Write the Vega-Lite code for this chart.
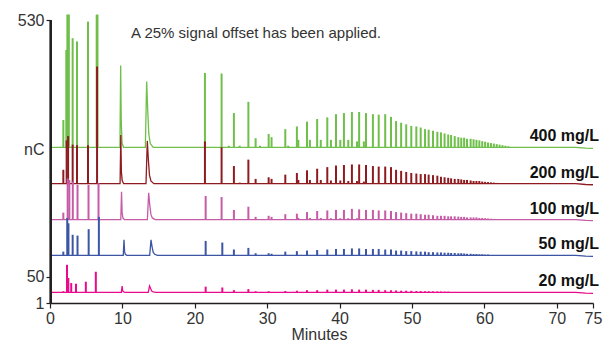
{
"$schema":"https://vega.github.io/schema/vega-lite/v6.json",
"width":543,"height":283,
"autosize":{"type":"none"},
"padding":{"left":50,"top":20,"right":23,"bottom":41},
"background":"white",
"config":{"view":{"stroke":null},
 "axis":{"grid":false,"domain":true,"domainColor":"#231f20","domainWidth":1.6,"tickColor":"#231f20","tickWidth":1.2,"labelFont":"Liberation Sans","labelFontSize":16,"labelColor":"#333","titleFont":"Liberation Sans","titleFontSize":16,"titleFontWeight":"normal","titleColor":"#333"}},
"datasets":{
"series":[{"s":"1","name":"400 mg/L","b":292},{"s":"2","name":"200 mg/L","b":224},{"s":"3","name":"100 mg/L","b":157},{"s":"4","name":"50 mg/L","b":90},{"s":"5","name":"20 mg/L","b":21}],
"trace":[
{"s":"1","t":0,"v":292},{"s":"1","t":9.66,"v":292},{"s":"1","t":9.76,"v":445},{"s":"1","t":9.84,"v":340},{"s":"1","t":9.95,"v":300},{"s":"1","t":10.15,"v":292},{"s":"1","t":13.17,"v":292},{"s":"1","t":13.35,"v":415},{"s":"1","t":13.5,"v":360},{"s":"1","t":13.65,"v":317},{"s":"1","t":13.85,"v":299},{"s":"1","t":14.25,"v":292},{"s":"1","t":72.6,"v":292},{"s":"1","t":74,"v":290.5},{"s":"1","t":75,"v":290},
{"s":"2","t":0,"v":224},{"s":"2","t":9.68,"v":224},{"s":"2","t":9.78,"v":315},{"s":"2","t":9.86,"v":246},{"s":"2","t":9.97,"v":230},{"s":"2","t":10.17,"v":224},{"s":"2","t":13.26,"v":224},{"s":"2","t":13.44,"v":304},{"s":"2","t":13.59,"v":268},{"s":"2","t":13.74,"v":240},{"s":"2","t":13.94,"v":229},{"s":"2","t":14.34,"v":224},{"s":"2","t":72.6,"v":224},{"s":"2","t":74,"v":222.5},{"s":"2","t":75,"v":222},
{"s":"3","t":0,"v":157},{"s":"3","t":9.78,"v":157},{"s":"3","t":9.88,"v":209},{"s":"3","t":9.96,"v":170},{"s":"3","t":10.07,"v":160},{"s":"3","t":10.27,"v":157},{"s":"3","t":13.45,"v":157},{"s":"3","t":13.63,"v":207},{"s":"3","t":13.78,"v":184},{"s":"3","t":13.93,"v":167},{"s":"3","t":14.13,"v":160},{"s":"3","t":14.53,"v":157},{"s":"3","t":72.6,"v":157},{"s":"3","t":74,"v":155.5},{"s":"3","t":75,"v":155},
{"s":"4","t":0,"v":90},{"s":"4","t":10.12,"v":90},{"s":"4","t":10.22,"v":119},{"s":"4","t":10.3,"v":97},{"s":"4","t":10.41,"v":92},{"s":"4","t":10.61,"v":90},{"s":"4","t":13.77,"v":90},{"s":"4","t":13.95,"v":119},{"s":"4","t":14.1,"v":106},{"s":"4","t":14.25,"v":96},{"s":"4","t":14.45,"v":92},{"s":"4","t":14.85,"v":90},{"s":"4","t":72.6,"v":90},{"s":"4","t":74,"v":88.5},{"s":"4","t":75,"v":88},
{"s":"5","t":0,"v":21},{"s":"5","t":9.86,"v":21},{"s":"5","t":9.96,"v":32.7},{"s":"5","t":10.04,"v":24},{"s":"5","t":10.15,"v":22},{"s":"5","t":10.35,"v":21},{"s":"5","t":13.57,"v":21},{"s":"5","t":13.75,"v":33},{"s":"5","t":13.9,"v":28},{"s":"5","t":14.05,"v":23.5},{"s":"5","t":14.25,"v":22},{"s":"5","t":14.65,"v":21},{"s":"5","t":72.6,"v":21},{"s":"5","t":74,"v":19.5},{"s":"5","t":75,"v":19}
],
"peaks":[
{"s":"1","t":1.84,"v":343},{"s":"1","t":2.25,"v":474},{"s":"1","t":2.4,"v":540},{"s":"1","t":2.5,"v":540},{"s":"1","t":2.6,"v":540},{"s":"1","t":3.13,"v":496},{"s":"1","t":3.73,"v":490},{"s":"1","t":5.25,"v":527},{"s":"1","t":6.45,"v":540},{"s":"1","t":6.56,"v":540},
{"s":"1","t":21.4,"v":431},{"s":"1","t":23.7,"v":430},{"s":"1","t":24.7,"v":295},{"s":"1","t":25.4,"v":356},{"s":"1","t":26.2,"v":295},{"s":"1","t":27.4,"v":377},{"s":"1","t":28.4,"v":309},{"s":"1","t":29.0,"v":295},{"s":"1","t":30.2,"v":317},{"s":"1","t":30.6,"v":311},{"s":"1","t":32.5,"v":326},{"s":"1","t":32.9,"v":295},{"s":"1","t":34.1,"v":331},{"s":"1","t":34.3,"v":306},{"s":"1","t":35.5,"v":340},{"s":"1","t":35.9,"v":306},{"s":"1","t":36.9,"v":345},{"s":"1","t":37.4,"v":306},{"s":"1","t":38.3,"v":348},{"s":"1","t":38.8,"v":306},{"s":"1","t":39.5,"v":354},{"s":"1","t":40.1,"v":306},{"s":"1","t":40.6,"v":356},{"s":"1","t":41.2,"v":306},{"s":"1","t":41.7,"v":358},{"s":"1","t":42.4,"v":303},{"s":"1","t":42.7,"v":358},{"s":"1","t":43.35,"v":303},{"s":"1","t":43.65,"v":356},{"s":"1","t":44.6,"v":354},{"s":"1","t":45.4,"v":353},{"s":"1","t":46.3,"v":354},{"s":"1","t":47.1,"v":349},{"s":"1","t":47.8,"v":341},{"s":"1","t":48.5,"v":338},{"s":"1","t":49.2,"v":335},{"s":"1","t":49.9,"v":332},{"s":"1","t":50.6,"v":331},{"s":"1","t":51.2,"v":329},{"s":"1","t":51.8,"v":326},{"s":"1","t":52.3,"v":325},{"s":"1","t":52.9,"v":323},{"s":"1","t":53.5,"v":321},{"s":"1","t":54.0,"v":320},{"s":"1","t":54.5,"v":318},{"s":"1","t":55.0,"v":316},{"s":"1","t":55.4,"v":315},{"s":"1","t":55.9,"v":313},{"s":"1","t":56.4,"v":311},{"s":"1","t":56.8,"v":310},{"s":"1","t":57.2,"v":310},{"s":"1","t":57.6,"v":308},{"s":"1","t":58.1,"v":308},{"s":"1","t":58.5,"v":307},{"s":"1","t":58.9,"v":306},{"s":"1","t":59.3,"v":305},{"s":"1","t":59.7,"v":303.5},{"s":"1","t":60.1,"v":302.5},{"s":"1","t":60.5,"v":301},{"s":"1","t":60.9,"v":300},{"s":"1","t":61.3,"v":299},{"s":"1","t":61.7,"v":298},{"s":"1","t":62.1,"v":297},{"s":"1","t":62.5,"v":296},{"s":"1","t":62.9,"v":295},{"s":"1","t":63.3,"v":294},
{"s":"2","t":1.84,"v":250},{"s":"2","t":2.3,"v":305},{"s":"2","t":2.5,"v":313},{"s":"2","t":3.13,"v":297},{"s":"2","t":3.73,"v":296},{"s":"2","t":5.25,"v":296},{"s":"2","t":6.5,"v":443},
{"s":"2","t":21.4,"v":303},{"s":"2","t":23.7,"v":292},{"s":"2","t":25.4,"v":257},{"s":"2","t":26.2,"v":226},{"s":"2","t":27.4,"v":269},{"s":"2","t":28.4,"v":233},{"s":"2","t":30.2,"v":236},{"s":"2","t":30.6,"v":233},{"s":"2","t":32.5,"v":241},{"s":"2","t":34.1,"v":244},{"s":"2","t":34.3,"v":231},{"s":"2","t":35.5,"v":249},{"s":"2","t":35.9,"v":231},{"s":"2","t":36.9,"v":252},{"s":"2","t":37.4,"v":231},{"s":"2","t":38.3,"v":255},{"s":"2","t":38.8,"v":230},{"s":"2","t":39.5,"v":258},{"s":"2","t":40.1,"v":230},{"s":"2","t":40.6,"v":259},{"s":"2","t":41.2,"v":229},{"s":"2","t":41.7,"v":260},{"s":"2","t":42.4,"v":229},{"s":"2","t":42.7,"v":260},{"s":"2","t":43.35,"v":228},{"s":"2","t":43.65,"v":259},{"s":"2","t":44.6,"v":257},{"s":"2","t":45.4,"v":256},{"s":"2","t":46.3,"v":256},{"s":"2","t":47.1,"v":255},{"s":"2","t":47.8,"v":250},{"s":"2","t":48.5,"v":248},{"s":"2","t":49.2,"v":246},{"s":"2","t":49.9,"v":244},{"s":"2","t":50.6,"v":243},{"s":"2","t":51.2,"v":242},{"s":"2","t":51.8,"v":242},{"s":"2","t":52.3,"v":241},{"s":"2","t":52.9,"v":240},{"s":"2","t":53.5,"v":239},{"s":"2","t":54.0,"v":237},{"s":"2","t":54.5,"v":236},{"s":"2","t":55.0,"v":235},{"s":"2","t":55.4,"v":234},{"s":"2","t":55.9,"v":233},{"s":"2","t":56.4,"v":233},{"s":"2","t":56.8,"v":232},{"s":"2","t":57.2,"v":231},{"s":"2","t":57.6,"v":231},{"s":"2","t":58.1,"v":230},{"s":"2","t":58.5,"v":229},{"s":"2","t":58.9,"v":229},{"s":"2","t":59.3,"v":229},{"s":"2","t":59.7,"v":228},{"s":"2","t":60.1,"v":227.5},{"s":"2","t":60.5,"v":227},{"s":"2","t":60.9,"v":226.5},{"s":"2","t":61.3,"v":226},{"s":"2","t":61.7,"v":225.5},{"s":"2","t":62.1,"v":225},
{"s":"3","t":1.84,"v":170},{"s":"3","t":2.44,"v":234},{"s":"3","t":2.67,"v":231},{"s":"3","t":3.15,"v":228},{"s":"3","t":3.8,"v":222},{"s":"3","t":5.32,"v":222},{"s":"3","t":6.7,"v":225},
{"s":"3","t":21.5,"v":201},{"s":"3","t":23.7,"v":199},{"s":"3","t":25.4,"v":175},{"s":"3","t":27.4,"v":181},{"s":"3","t":28.4,"v":162},{"s":"3","t":30.2,"v":164},{"s":"3","t":30.6,"v":162},{"s":"3","t":32.5,"v":167},{"s":"3","t":34.1,"v":168},{"s":"3","t":34.3,"v":160},{"s":"3","t":35.5,"v":171},{"s":"3","t":35.9,"v":160},{"s":"3","t":36.9,"v":173},{"s":"3","t":37.4,"v":160},{"s":"3","t":38.3,"v":174},{"s":"3","t":38.8,"v":159.5},{"s":"3","t":39.5,"v":175},{"s":"3","t":40.1,"v":159.5},{"s":"3","t":40.6,"v":175},{"s":"3","t":41.2,"v":159.5},{"s":"3","t":41.7,"v":177},{"s":"3","t":42.4,"v":159.5},{"s":"3","t":42.7,"v":176},{"s":"3","t":43.65,"v":175},{"s":"3","t":44.6,"v":175},{"s":"3","t":45.4,"v":174},{"s":"3","t":46.3,"v":174},{"s":"3","t":47.1,"v":173},{"s":"3","t":47.8,"v":171},{"s":"3","t":48.5,"v":170},{"s":"3","t":49.2,"v":169},{"s":"3","t":49.9,"v":168},{"s":"3","t":50.6,"v":168},{"s":"3","t":51.2,"v":167},{"s":"3","t":51.8,"v":166},{"s":"3","t":52.3,"v":166},{"s":"3","t":52.9,"v":165},{"s":"3","t":53.5,"v":164},{"s":"3","t":54.0,"v":164},{"s":"3","t":54.5,"v":164},{"s":"3","t":55.0,"v":163},{"s":"3","t":55.4,"v":163},{"s":"3","t":55.9,"v":163},{"s":"3","t":56.4,"v":162.5},{"s":"3","t":56.8,"v":162},{"s":"3","t":57.2,"v":162},{"s":"3","t":57.6,"v":161},{"s":"3","t":58.1,"v":161},{"s":"3","t":58.5,"v":161},{"s":"3","t":58.9,"v":161},{"s":"3","t":59.3,"v":160},{"s":"3","t":59.7,"v":160},{"s":"3","t":60.1,"v":159.5},{"s":"3","t":60.5,"v":159},{"s":"3","t":60.9,"v":158.5},{"s":"3","t":61.3,"v":158},
{"s":"4","t":1.84,"v":97},{"s":"4","t":2.38,"v":160},{"s":"4","t":2.55,"v":150},{"s":"4","t":3.13,"v":128.5},{"s":"4","t":3.8,"v":127},{"s":"4","t":5.34,"v":139},{"s":"4","t":6.75,"v":162},
{"s":"4","t":21.5,"v":117},{"s":"4","t":23.8,"v":114},{"s":"4","t":25.4,"v":101},{"s":"4","t":27.4,"v":104},{"s":"4","t":28.4,"v":94},{"s":"4","t":30.2,"v":94},{"s":"4","t":30.6,"v":93},{"s":"4","t":32.5,"v":97},{"s":"4","t":34.1,"v":98},{"s":"4","t":35.5,"v":99},{"s":"4","t":36.9,"v":100},{"s":"4","t":38.3,"v":101},{"s":"4","t":39.5,"v":102},{"s":"4","t":40.6,"v":102},{"s":"4","t":41.7,"v":103},{"s":"4","t":42.7,"v":103},{"s":"4","t":43.65,"v":102},{"s":"4","t":44.6,"v":102},{"s":"4","t":45.4,"v":102},{"s":"4","t":46.3,"v":101},{"s":"4","t":47.1,"v":101},{"s":"4","t":47.8,"v":99},{"s":"4","t":48.5,"v":99},{"s":"4","t":49.2,"v":98},{"s":"4","t":49.9,"v":98},{"s":"4","t":50.6,"v":97.5},{"s":"4","t":51.2,"v":97},{"s":"4","t":51.8,"v":97},{"s":"4","t":52.3,"v":96},{"s":"4","t":52.9,"v":96},{"s":"4","t":53.5,"v":95.5},{"s":"4","t":54.0,"v":95.5},{"s":"4","t":54.5,"v":95},{"s":"4","t":55.0,"v":95},{"s":"4","t":55.4,"v":94.5},{"s":"4","t":55.9,"v":94.5},{"s":"4","t":56.4,"v":94},{"s":"4","t":56.8,"v":94},{"s":"4","t":57.2,"v":93.5},{"s":"4","t":57.6,"v":93},{"s":"4","t":58.1,"v":93},{"s":"4","t":58.5,"v":92.5},{"s":"4","t":58.9,"v":92.5},{"s":"4","t":59.3,"v":92},{"s":"4","t":59.7,"v":92},{"s":"4","t":60.1,"v":91.5},{"s":"4","t":60.5,"v":91.5},
{"s":"5","t":1.84,"v":23},{"s":"5","t":2.35,"v":72.5},{"s":"5","t":2.53,"v":47.7},{"s":"5","t":2.93,"v":38.3},{"s":"5","t":3.59,"v":37},{"s":"5","t":4.95,"v":40.8},{"s":"5","t":6.33,"v":59.4},
{"s":"5","t":21.5,"v":31.6},{"s":"5","t":23.8,"v":30},{"s":"5","t":25.4,"v":25},{"s":"5","t":27.4,"v":27},{"s":"5","t":28.4,"v":23},{"s":"5","t":30.2,"v":23},{"s":"5","t":32.5,"v":23.5},{"s":"5","t":34.1,"v":24},{"s":"5","t":35.5,"v":25},{"s":"5","t":36.9,"v":25},{"s":"5","t":38.3,"v":26},{"s":"5","t":39.5,"v":26},{"s":"5","t":40.6,"v":26},{"s":"5","t":41.7,"v":26.6},{"s":"5","t":42.7,"v":26},{"s":"5","t":43.65,"v":26},{"s":"5","t":44.6,"v":25.5},{"s":"5","t":45.4,"v":25.5},{"s":"5","t":46.3,"v":25},{"s":"5","t":47.1,"v":24.7},{"s":"5","t":47.8,"v":24.5},{"s":"5","t":48.5,"v":24},{"s":"5","t":49.2,"v":24},{"s":"5","t":49.9,"v":23.8},{"s":"5","t":50.6,"v":23.5},{"s":"5","t":51.2,"v":23.3},{"s":"5","t":51.8,"v":23},{"s":"5","t":52.3,"v":23},{"s":"5","t":52.9,"v":22.8},{"s":"5","t":53.5,"v":22.6},{"s":"5","t":54.0,"v":22.5},{"s":"5","t":54.5,"v":22.3},{"s":"5","t":55.0,"v":22.2}
]},
"layer":[
{"data":{"name":"trace"},
 "mark":{"type":"line","strokeWidth":1.3,"clip":false},
 "encoding":{
  "x":{"field":"t","type":"quantitative","scale":{"domain":[0,75],"nice":false,"zero":false},
   "axis":{"title":"Minutes","values":[0,10,20,30,40,50,60,70,75],"labelOverlap":false,"labelFlush":false,"tickSize":5,"labelPadding":2,"titleBaseline":"alphabetic","titleY":36,"titleX":269}},
  "y":{"field":"v","type":"quantitative","scale":{"domain":[1,530],"nice":false,"zero":false},
   "axis":{"title":"nC","values":[1,50,530],"domain":true,"domainColor":"#231f20","domainWidth":2,"zindex":1,"tickSize":4,"labelPadding":2,"labelOverlap":false,"titleAngle":0,"titleAlign":"right","titleBaseline":"middle","titleX":-6,"titleY":129}},
  "color":{"field":"s","type":"nominal","scale":{"domain":["1","2","3","4","5"],"range":["#6fbf4a","#8e1b1f","#c65ba6","#3c55a5","#ea0b8c"]},"legend":null}}},
{"data":{"values":[{}]},
 "mark":{"type":"rule","color":"#231f20","strokeWidth":2.2,"clip":false},
 "encoding":{
  "x":{"datum":0.12,"type":"quantitative"},
  "y":{"datum":1,"type":"quantitative"},
  "y2":{"datum":530}}},
{"data":{"name":"peaks"},
 "transform":[{"lookup":"s","from":{"data":{"name":"series"},"key":"s","fields":["b"]}}],
 "mark":{"type":"rule","strokeWidth":2,"clip":false},
 "encoding":{
  "x":{"field":"t","type":"quantitative"},
  "y":{"field":"b","type":"quantitative"},
  "y2":{"field":"v"},
  "color":{"field":"s","type":"nominal","legend":null}}},
{"data":{"name":"series"},
 "mark":{"type":"text","align":"right","baseline":"alphabetic","dx":6,"dy":-6,"font":"Liberation Sans","fontWeight":"bold","fontSize":16,"color":"#111","clip":false},
 "encoding":{
  "x":{"datum":75,"type":"quantitative"},
  "y":{"field":"b","type":"quantitative"},
  "text":{"field":"name"}}},
{"data":{"values":[{}]},
 "mark":{"type":"text","align":"left","baseline":"alphabetic","font":"Liberation Sans","fontSize":15,"color":"#333"},
 "encoding":{
  "x":{"datum":11.2,"type":"quantitative"},
  "y":{"datum":497,"type":"quantitative"},
  "text":{"value":"A 25% signal offset has been applied."}}}
]
}
